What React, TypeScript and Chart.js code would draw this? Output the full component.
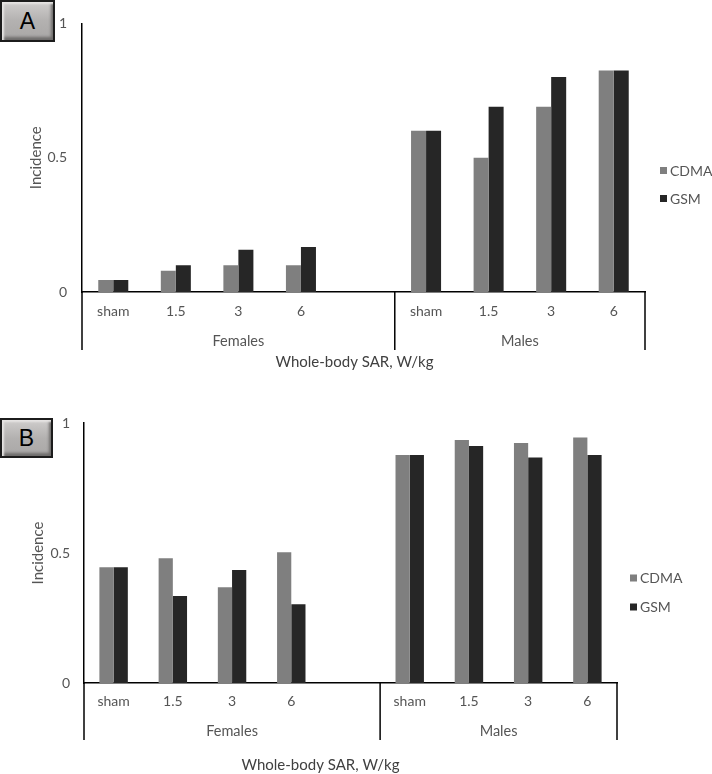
import React, { useEffect, useRef } from "react";
import { Chart, registerables } from "chart.js";

Chart.register(...registerables);

// ---- Data ----
const DOSES = ["sham", "1.5", "3", "6"];
const GROUPS = ["Females", "Males"];
const SERIES = ["CDMA", "GSM"];
const COLORS = ["#7f7f7f", "#262626"];

// Panel A
const A_CDMA_FEMALES = [0.045, 0.079, 0.1, 0.1];
const A_GSM_FEMALES = [0.045, 0.1, 0.157, 0.168];
const A_CDMA_MALES = [0.6, 0.5, 0.69, 0.825];
const A_GSM_MALES = [0.6, 0.69, 0.8, 0.825];

// Panel B
const B_CDMA_FEMALES = [0.445, 0.48, 0.368, 0.503];
const B_GSM_FEMALES = [0.445, 0.335, 0.435, 0.303];
const B_CDMA_MALES = [0.877, 0.935, 0.923, 0.944];
const B_GSM_MALES = [0.877, 0.912, 0.867, 0.877];

const Y_TICKS = [0, 0.5, 1];
const Y_TITLE = "Incidence";
const X_TITLE = "Whole-body SAR, W/kg";

// category layout: Females (4 doses + spacer), Males (4 doses)
const LABELS = [...DOSES, "", ...DOSES];
const GROUP_SIZES = [5, 4];
const join = (f: number[], m: number[]) => [...f, null, ...m];

const FONT = "Lato, 'Open Sans', sans-serif";
const TEXT = "#555555";

const decorPlugin = {
  id: "decor",
  afterDraw(chart: any, _args: any, opts: any) {
    const { ctx, chartArea, scales } = chart;
    const x = scales.x;
    const half = (x.getPixelForValue(1) - x.getPixelForValue(0)) / 2;
    const bottom = chartArea.bottom;
    ctx.save();
    // group separators
    ctx.strokeStyle = "#000";
    ctx.lineWidth = 1.5;
    let idx = 0;
    const bounds: number[] = [x.getPixelForValue(0) - half];
    GROUP_SIZES.forEach((s) => {
      idx += s;
      bounds.push(x.getPixelForValue(idx - 1) + half);
    });
    bounds.forEach((bx) => {
      ctx.beginPath();
      ctx.moveTo(bx, bottom);
      ctx.lineTo(bx, bottom + opts.ext);
      ctx.stroke();
    });
    // group labels
    ctx.fillStyle = TEXT;
    ctx.font = `14.5px ${FONT}`;
    ctx.textAlign = "center";
    ctx.textBaseline = "middle";
    GROUPS.forEach((g, i) => {
      ctx.fillText(g, (bounds[i] + bounds[i + 1]) / 2, bottom + opts.groupY);
    });
    // x title
    ctx.fillStyle = "#404040";
    ctx.font = `15px ${FONT}`;
    ctx.fillText(X_TITLE, (chartArea.left + chartArea.right) / 2 + opts.titleDx, bottom + opts.titleY);
    // legend
    ctx.textAlign = "left";
    ctx.font = `14px ${FONT}`;
    chart.data.datasets.forEach((ds: any, i: number) => {
      const ly = opts.legendY + i * opts.legendGap;
      ctx.fillStyle = ds.backgroundColor;
      ctx.fillRect(opts.legendX, ly - 3.5, 7, 7);
      ctx.fillStyle = TEXT;
      ctx.fillText(ds.label, opts.legendX + 10, ly + 0.5);
    });
    ctx.restore();
  },
};

function makeConfig(cdma: (number | null)[], gsm: (number | null)[], p: any) {
  return {
    type: "bar",
    data: {
      labels: LABELS,
      datasets: [
        { label: SERIES[0], data: cdma, backgroundColor: COLORS[0], categoryPercentage: 0.48, barPercentage: 1 },
        { label: SERIES[1], data: gsm, backgroundColor: COLORS[1], categoryPercentage: 0.48, barPercentage: 1 },
      ],
    },
    options: {
      responsive: false,
      animation: false,
      layout: { padding: { left: p.padLeft, right: p.padRight, top: p.padTop, bottom: 0 } },
      plugins: {
        legend: { display: false },
        tooltip: { enabled: false },
        decor: p.decor,
      },
      scales: {
        x: {
          grid: { display: false, drawTicks: false },
          border: { display: true, color: "#000", width: 1.5 },
          ticks: { color: TEXT, font: { family: FONT, size: 14 }, padding: p.xTickPad, maxRotation: 0, autoSkip: false },
          afterFit: (s: any) => { s.height = p.xHeight; },
        },
        y: {
          min: 0,
          max: 1,
          grid: { display: false, drawTicks: false },
          border: { display: true, color: "#000", width: 1.5 },
          afterBuildTicks: (s: any) => { s.ticks = Y_TICKS.map((v) => ({ value: v })); },
          ticks: { color: TEXT, font: { family: FONT, size: 14 }, padding: p.yTickPad, callback: (v: any) => String(v) },
          title: { display: true, text: Y_TITLE, color: TEXT, font: { family: FONT, size: 15 }, padding: 0 },
          afterFit: (s: any) => { s.width = p.yWidth; },
        },
      },
    },
    plugins: [decorPlugin],
  } as any;
}

function Panel({ top, height, config }: { top: number; height: number; config: any }) {
  const ref = useRef<HTMLCanvasElement | null>(null);
  useEffect(() => {
    if (!ref.current) return;
    const chart = new Chart(ref.current, config);
    return () => chart.destroy();
  }, [config]);
  return (
    <canvas
      ref={ref}
      width={712}
      height={height}
      style={{ position: "absolute", left: 0, top, width: 712, height }}
    />
  );
}

function LetterBox({ letter, top, width, height }: { letter: string; top: number; width: number; height: number }) {
  return (
    <div
      style={{
        position: "absolute",
        left: 0,
        top,
        width,
        height,
        boxSizing: "border-box",
        border: "2px solid #1c1c1c",
        background: "linear-gradient(#cfcdcc, #b3b1b0 50%, #a9a7a6)",
        boxShadow: "inset 2px 2px 2px #e6e4e3, inset -2px -3px 3px #6e6c6b",
        display: "flex",
        alignItems: "center",
        justifyContent: "center",
        fontFamily: "'Liberation Sans', Arial, sans-serif",
        fontSize: 23,
        color: "#000",
      }}
    >
      {letter}
    </div>
  );
}

const configA = makeConfig(join(A_CDMA_FEMALES, A_CDMA_MALES), join(A_GSM_FEMALES, A_GSM_MALES), {
  padLeft: 27,
  padRight: 67,
  padTop: 12,
  yWidth: 55,
  xHeight: 88,
  xTickPad: 11,
  yTickPad: 15,
  decor: { ext: 58, groupY: 49, titleY: 70, titleDx: -9, legendX: 660, legendY: 170.5, legendGap: 28 },
});

const configB = makeConfig(join(B_CDMA_FEMALES, B_CDMA_MALES), join(B_GSM_FEMALES, B_GSM_MALES), {
  padLeft: 29,
  padRight: 95,
  padTop: 43,
  yWidth: 55,
  xHeight: 91,
  xTickPad: 10,
  yTickPad: 14,
  decor: { ext: 57, groupY: 48, titleY: 82, titleDx: -30, legendX: 630, legendY: 198, legendGap: 29 },
});

export default function App() {
  return (
    <div style={{ position: "fixed", left: 0, top: 0, width: 712, height: 774, background: "#fff" }}>
      <Panel top={0} height={380} config={configA} />
      <Panel top={380} height={394} config={configB} />
      <LetterBox letter="A" top={0} width={55} height={42} />
      <LetterBox letter="B" top={418} width={53} height={40} />
    </div>
  );
}
